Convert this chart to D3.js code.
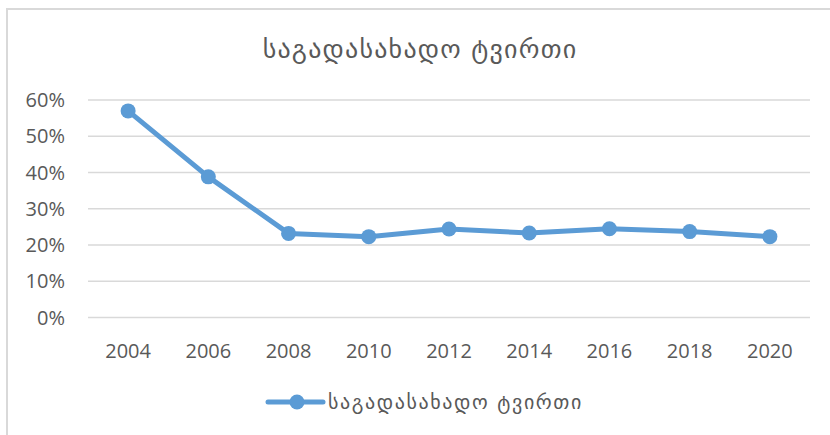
<!DOCTYPE html>
<html>
<head>
<meta charset="utf-8">
<script src="https://cdn.jsdelivr.net/npm/d3@7"></script>
<style>
  body { margin: 0; background: #fff; }
  text { font-family: "Open Sans", "DejaVu Sans", sans-serif; fill: #595959; }
  .geo { font-family: "DejaVu Sans", "Noto Sans", sans-serif; }
</style>
</head>
<body>
<script>
const years = ["2004", "2006", "2008", "2010", "2012", "2014", "2016", "2018", "2020"];
const taxBurden = [0.57, 0.388, 0.232, 0.223, 0.244, 0.233, 0.245, 0.237, 0.223];
const yTicks = [0, 0.1, 0.2, 0.3, 0.4, 0.5, 0.6];
const seriesName = "საგადასახადო ტვირთი";

const width = 830, height = 435;
const svg = d3.select("body").append("svg")
    .attr("width", width)
    .attr("height", height);

// chart frame, runs off the right and bottom edges
svg.append("rect")
    .attr("x", 7).attr("y", 9)
    .attr("width", 900).attr("height", 500)
    .attr("fill", "none")
    .attr("stroke", "#d9d9d9")
    .attr("stroke-width", 2);

const x = d3.scaleBand().domain(years).range([88, 810]);
const y = d3.scaleLinear().domain([0, 0.6]).range([317.5, 100]);

// gridlines
svg.append("g").selectAll("line")
    .data(yTicks)
    .join("line")
    .attr("x1", 88).attr("x2", 810)
    .attr("y1", d => y(d)).attr("y2", d => y(d))
    .attr("stroke", "#d9d9d9")
    .attr("stroke-width", 1.5);

// y labels
svg.append("g").selectAll("text")
    .data(yTicks)
    .join("text")
    .attr("x", 65)
    .attr("y", d => y(d))
    .attr("dy", "0.35em")
    .attr("text-anchor", "end")
    .attr("font-size", 20)
    .text(d => d3.format(".0%")(d));

// x labels
svg.append("g").selectAll("text")
    .data(years)
    .join("text")
    .attr("x", d => x(d) + x.bandwidth() / 2)
    .attr("y", 358)
    .attr("text-anchor", "middle")
    .attr("font-size", 20)
    .text(d => d);

const line = d3.line()
    .x((d, i) => x(years[i]) + x.bandwidth() / 2)
    .y(d => y(d));

svg.append("path")
    .datum(taxBurden)
    .attr("d", line)
    .attr("fill", "none")
    .attr("stroke", "#5b9bd5")
    .attr("stroke-width", 5)
    .attr("stroke-linejoin", "round");

svg.append("g").selectAll("circle")
    .data(taxBurden)
    .join("circle")
    .attr("cx", (d, i) => x(years[i]) + x.bandwidth() / 2)
    .attr("cy", d => y(d))
    .attr("r", 7.5)
    .attr("fill", "#5b9bd5");

// title
svg.append("text")
    .attr("class", "geo")
    .attr("x", 420)
    .attr("y", 58)
    .attr("text-anchor", "middle")
    .attr("font-size", 26)
    .attr("letter-spacing", 1.2)
    .text(seriesName);

// legend
const lg = svg.append("g");
lg.append("line")
    .attr("x1", 268).attr("x2", 323)
    .attr("y1", 402).attr("y2", 402)
    .attr("stroke", "#5b9bd5")
    .attr("stroke-width", 5)
    .attr("stroke-linecap", "round");
lg.append("circle")
    .attr("cx", 297).attr("cy", 402)
    .attr("r", 7.5)
    .attr("fill", "#5b9bd5");
lg.append("text")
    .attr("class", "geo")
    .attr("x", 328)
    .attr("y", 402)
    .attr("dy", "0.35em")
    .attr("font-size", 20)
    .attr("letter-spacing", 1.6)
    .text(seriesName);
</script>
</body>
</html>
